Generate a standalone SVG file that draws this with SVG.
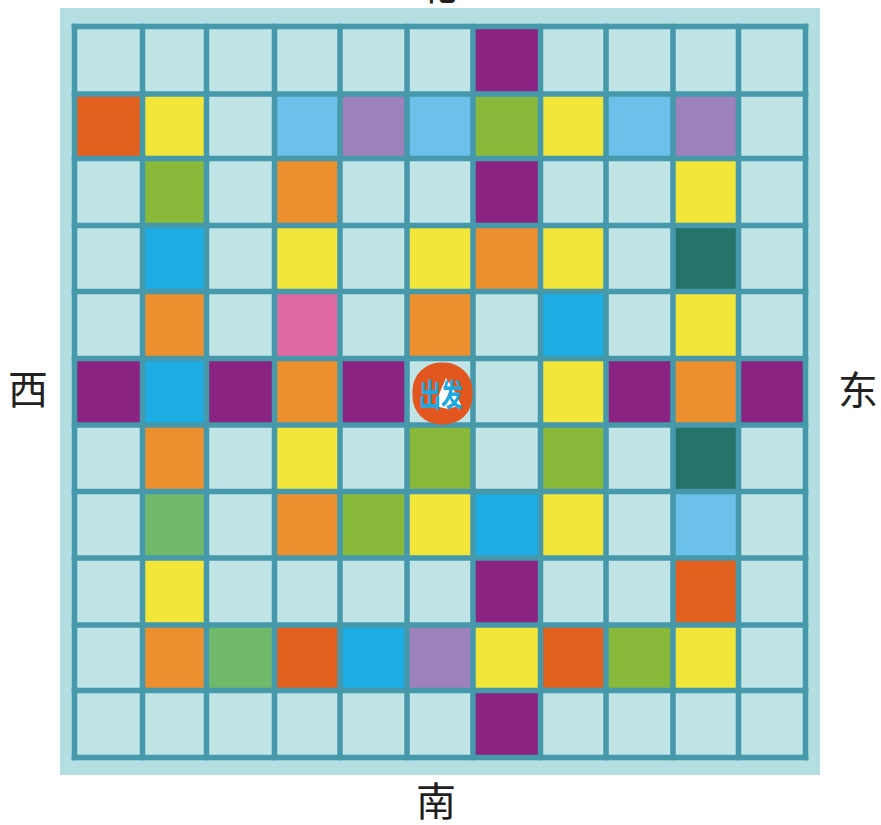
<svg xmlns="http://www.w3.org/2000/svg" width="881" height="825" viewBox="0 0 881 825">
<style>
.P{fill:#8a2382}.R{fill:#e2611f}.Y{fill:#f2e63a}.LB{fill:#6cc1ea}.LV{fill:#9c81ba}.G{fill:#88b93b}.O{fill:#ec8f2f}.B{fill:#1eade3}.T{fill:#25746a}.PK{fill:#e06aa3}.MG{fill:#70b96b}
.lbl{font-family:"Noto Sans CJK SC","Noto Sans CJK JP",sans-serif;font-size:40px;fill:#231f20;text-anchor:middle}
</style>
<rect x="0" y="0" width="881" height="825" fill="#ffffff"/>
<g id="board">
<rect x="60" y="8" width="760" height="767" fill="#b4dfe2"/>
<rect x="74.5" y="26.5" width="731" height="731" fill="#c1e5e7"/>
</g>
<g id="cells">
<rect class="P" x="473" y="26.5" width="67.5" height="67.5"/>
<rect class="R" x="74.5" y="94" width="68" height="64.5"/>
<rect class="Y" x="142.5" y="94" width="64" height="64.5"/>
<rect class="LB" x="274.5" y="94" width="65.5" height="64.5"/>
<rect class="LV" x="340" y="94" width="67" height="64.5"/>
<rect class="LB" x="407" y="94" width="66" height="64.5"/>
<rect class="G" x="473" y="94" width="67.5" height="64.5"/>
<rect class="Y" x="540.5" y="94" width="65.5" height="64.5"/>
<rect class="LB" x="606" y="94" width="67" height="64.5"/>
<rect class="LV" x="673" y="94" width="65.5" height="64.5"/>
<rect class="G" x="142.5" y="158.5" width="64" height="67"/>
<rect class="O" x="274.5" y="158.5" width="65.5" height="67"/>
<rect class="P" x="473" y="158.5" width="67.5" height="67"/>
<rect class="Y" x="673" y="158.5" width="65.5" height="67"/>
<rect class="B" x="142.5" y="225.5" width="64" height="66"/>
<rect class="Y" x="274.5" y="225.5" width="65.5" height="66"/>
<rect class="Y" x="407" y="225.5" width="66" height="66"/>
<rect class="O" x="473" y="225.5" width="67.5" height="66"/>
<rect class="Y" x="540.5" y="225.5" width="65.5" height="66"/>
<rect class="T" x="673" y="225.5" width="65.5" height="66"/>
<rect class="O" x="142.5" y="291.5" width="64" height="67"/>
<rect class="PK" x="274.5" y="291.5" width="65.5" height="67"/>
<rect class="O" x="407" y="291.5" width="66" height="67"/>
<rect class="B" x="540.5" y="291.5" width="65.5" height="67"/>
<rect class="Y" x="673" y="291.5" width="65.5" height="67"/>
<rect class="P" x="74.5" y="358.5" width="68" height="66.5"/>
<rect class="B" x="142.5" y="358.5" width="64" height="66.5"/>
<rect class="P" x="206.5" y="358.5" width="68" height="66.5"/>
<rect class="O" x="274.5" y="358.5" width="65.5" height="66.5"/>
<rect class="P" x="340" y="358.5" width="67" height="66.5"/>
<rect class="Y" x="540.5" y="358.5" width="65.5" height="66.5"/>
<rect class="P" x="606" y="358.5" width="67" height="66.5"/>
<rect class="O" x="673" y="358.5" width="65.5" height="66.5"/>
<rect class="P" x="738.5" y="358.5" width="67" height="66.5"/>
<rect class="O" x="142.5" y="425" width="64" height="66.5"/>
<rect class="Y" x="274.5" y="425" width="65.5" height="66.5"/>
<rect class="G" x="407" y="425" width="66" height="66.5"/>
<rect class="G" x="540.5" y="425" width="65.5" height="66.5"/>
<rect class="T" x="673" y="425" width="65.5" height="66.5"/>
<rect class="MG" x="142.5" y="491.5" width="64" height="66.5"/>
<rect class="O" x="274.5" y="491.5" width="65.5" height="66.5"/>
<rect class="G" x="340" y="491.5" width="67" height="66.5"/>
<rect class="Y" x="407" y="491.5" width="66" height="66.5"/>
<rect class="B" x="473" y="491.5" width="67.5" height="66.5"/>
<rect class="Y" x="540.5" y="491.5" width="65.5" height="66.5"/>
<rect class="LB" x="673" y="491.5" width="65.5" height="66.5"/>
<rect class="Y" x="142.5" y="558" width="64" height="67"/>
<rect class="P" x="473" y="558" width="67.5" height="67"/>
<rect class="R" x="673" y="558" width="65.5" height="67"/>
<rect class="O" x="142.5" y="625" width="64" height="65.5"/>
<rect class="MG" x="206.5" y="625" width="68" height="65.5"/>
<rect class="R" x="274.5" y="625" width="65.5" height="65.5"/>
<rect class="B" x="340" y="625" width="67" height="65.5"/>
<rect class="LV" x="407" y="625" width="66" height="65.5"/>
<rect class="Y" x="473" y="625" width="67.5" height="65.5"/>
<rect class="R" x="540.5" y="625" width="65.5" height="65.5"/>
<rect class="G" x="606" y="625" width="67" height="65.5"/>
<rect class="Y" x="673" y="625" width="65.5" height="65.5"/>
<rect class="P" x="473" y="690.5" width="67.5" height="67"/>
</g>
<g id="grid" fill="none" stroke="#4599ab" stroke-width="5.5" stroke-linecap="square">
<path d="M74.5,26.5V757.5M142.5,26.5V757.5M206.5,26.5V757.5M274.5,26.5V757.5M340,26.5V757.5M407,26.5V757.5M473,26.5V757.5M540.5,26.5V757.5M606,26.5V757.5M673,26.5V757.5M738.5,26.5V757.5M805.5,26.5V757.5"/>
<path d="M74.5,26.5H805.5M74.5,94H805.5M74.5,158.5H805.5M74.5,225.5H805.5M74.5,291.5H805.5M74.5,358.5H805.5M74.5,425H805.5M74.5,491.5H805.5M74.5,558H805.5M74.5,625H805.5M74.5,690.5H805.5M74.5,757.5H805.5"/>
</g>
<g id="start">
<rect x="412.5" y="362.5" width="60" height="62" rx="28" ry="28" fill="#e2561f"/>
<path d="M446,378 L440,392 L435,406 L448,409 L461,405 L455,392 Z" fill="#ffffff"/>
<text x="419" y="406" font-family="'Noto Sans CJK SC',sans-serif" font-size="31" font-weight="bold" fill="#1ba9e1" textLength="44" lengthAdjust="spacingAndGlyphs">出发</text>
</g>
<g id="labels">
<text class="lbl" x="437" y="0">北</text>
<text class="lbl" x="28" y="404">西</text>
<text class="lbl" x="858" y="405">东</text>
<text class="lbl" x="436" y="816">南</text>
</g>
</svg>
